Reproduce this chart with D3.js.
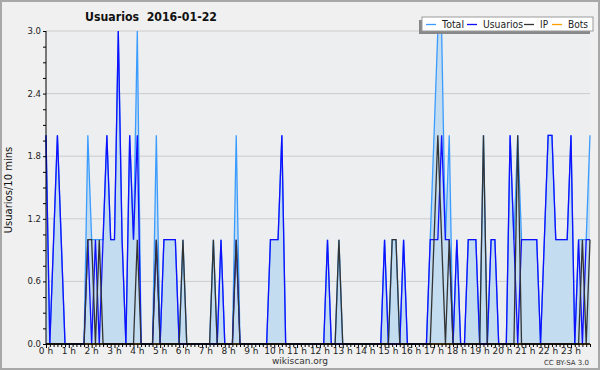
<!DOCTYPE html>
<html>
<head>
<meta charset="utf-8">
<script src="https://cdn.jsdelivr.net/npm/d3@7"></script>
<style>
  body { margin: 0; background: #f0f0f0; }
  text { font-family: "DejaVu Sans", sans-serif; }
</style>
</head>
<body>
<div id="chart"></div>
<script>
// 10-minute slots, 144 per day
const hourLabels = d3.range(24).map(h => h + " h");
const yTicks = [0, 0.6, 1.2, 1.8, 2.4, 3.0];

const total = [
  2,0,1,2,1,0,0,0,0,0,0,2,
  1,1,1,1,2,1,1,3,1,0,2,1,
  3,0,0,0,0,2,0,1,1,1,1,0,
  1,0,0,0,0,0,0,0,1,0,1,0,
  0,0,2,0,0,0,0,0,0,0,0,1,
  1,1,2,0,0,0,0,0,0,0,0,0,
  0,0,1,0,0,1,0,0,0,0,0,0,
  0,0,0,0,0,1,0,1,1,0,1,0,
  0,0,0,0,0,1,2,3,3,1,2,0,
  1,0,0,1,1,1,0,2,0,1,1,0,
  0,0,2,1,2,1,1,1,1,1,0,1,
  2,2,1,1,1,1,2,0,1,1,1,2
];
const usuarios = [
  2,0,1,2,1,0,0,0,0,0,0,1,
  0,1,0,1,2,1,1,3,1,0,2,1,
  2,0,0,0,0,1,0,1,1,1,1,0,
  0,0,0,0,0,0,0,0,0,0,1,0,
  0,0,1,0,0,0,0,0,0,0,0,1,
  1,1,2,0,0,0,0,0,0,0,0,0,
  0,0,1,0,0,0,0,0,0,0,0,0,
  0,0,0,0,0,1,0,0,0,0,1,0,
  0,0,0,0,0,1,1,1,2,1,1,0,
  1,0,0,1,1,1,0,0,0,1,1,0,
  0,0,2,1,0,1,1,1,1,1,0,1,
  2,2,1,1,1,1,2,0,1,0,1,1
];
const ip = [
  0,0,0,0,0,0,0,0,0,0,0,1,
  1,0,1,0,0,0,0,0,0,0,0,0,
  1,0,0,0,0,1,0,0,0,0,0,0,
  1,0,0,0,0,0,0,0,1,0,0,0,
  0,0,1,0,0,0,0,0,0,0,0,0,
  0,0,0,0,0,0,0,0,0,0,0,0,
  0,0,0,0,0,1,0,0,0,0,0,0,
  0,0,0,0,0,0,0,1,1,0,0,0,
  0,0,0,0,0,0,1,2,1,0,1,0,
  0,0,0,0,0,0,0,2,0,0,0,0,
  0,0,0,0,2,0,0,0,0,0,0,0,
  0,0,0,0,0,0,0,0,0,1,0,1
];
const bots = [
  0,0,0,0,0,0,0,0,0,0,0,0,
  0,0,0,0,0,0,0,0,0,0,0,0,
  0,0,0,0,0,0,0,0,0,0,0,0,
  0,0,0,0,0,0,0,0,0,0,0,0,
  0,0,0,0,0,0,0,0,0,0,0,0,
  0,0,0,0,0,0,0,0,0,0,0,0,
  0,0,0,0,0,0,0,0,0,0,0,0,
  0,0,0,0,0,0,0,0,0,0,0,0,
  0,0,0,0,0,0,0,0,0,0,0,0,
  0,0,0,0,0,0,0,0,0,0,0,0,
  0,0,0,0,0,0,0,0,0,0,0,0,
  0,0,0,0,0,0,0,0,0,0,0,0
];
const seriesNames = ["Total", "Usuarios", "IP", "Bots"];
const seriesColors = ["#3a9cff", "#1010ff", "#333333", "#ffa000"];

const W = 600, H = 370;
const svg = d3.select("#chart").append("svg")
    .attr("width", W).attr("height", H);

svg.append("rect").attr("x", 1).attr("y", 1)
    .attr("width", W - 2).attr("height", H - 2)
    .attr("fill", "#f0f0f0").attr("stroke", "#a8a8a8").attr("stroke-width", 2);

const x = d3.scaleLinear().domain([0, 143]).range([46, 590]);
const y = d3.scaleLinear().domain([0, 3]).range([344, 31]);

svg.append("rect").attr("x", x(0)).attr("y", y(3))
    .attr("width", x(143) - x(0)).attr("height", y(0) - y(3))
    .attr("fill", "#eceef0");

// grid
svg.append("g").selectAll("line").data(yTicks.slice(1)).join("line")
    .attr("x1", x(0)).attr("x2", x(143))
    .attr("y1", d => y(d)).attr("y2", d => y(d))
    .attr("stroke", "#cccccc").attr("stroke-width", 1);

const idx = d3.range(144);

svg.append("path").datum(idx)
    .attr("fill", "#c4dcf0")
    .attr("d", d3.area().x(i => x(i)).y0(y(0)).y1(i => y(total[i])));

const line = arr => d3.line().x(i => x(i)).y(i => y(arr[i]));
// bots first so the axis hides it at zero
[bots, total, usuarios, ip].forEach(arr => {
  const k = [total, usuarios, ip, bots].indexOf(arr);
  svg.append("path").datum(idx)
      .attr("fill", "none")
      .attr("stroke", seriesColors[k])
      .attr("stroke-width", 1.3)
      .attr("d", line(arr));
});

// x axis
const xAxis = svg.append("g").attr("transform", `translate(0,${y(0)})`);
xAxis.append("line").attr("x1", x(0)).attr("x2", x(143))
    .attr("stroke", "#000").attr("stroke-width", 1.6);
xAxis.selectAll(".mt").data(idx).join("line")
    .attr("x1", i => x(i) + 0.5).attr("x2", i => x(i) + 0.5)
    .attr("y1", 0).attr("y2", i => i % 6 === 0 ? 4 : 3)
    .attr("stroke", "#000");
xAxis.selectAll("text").data(hourLabels).join("text")
    .attr("x", (d, h) => x(h * 6)).attr("y", 10)
    .attr("text-anchor", "middle")
    .attr("font-size", 9).attr("fill", "#222")
    .text(d => d);

// y axis
const yAxis = svg.append("g");
yAxis.append("line").attr("x1", x(0)).attr("x2", x(0))
    .attr("y1", y(0)).attr("y2", y(3)).attr("stroke", "#000");
yAxis.selectAll(".mt").data(d3.range(0, 21)).join("line")
    .attr("x1", x(0) - 3).attr("x2", x(0))
    .attr("y1", k => y(k * 0.15) + 0.5).attr("y2", k => y(k * 0.15) + 0.5)
    .attr("stroke", "#000");
yAxis.selectAll("text").data(yTicks).join("text")
    .attr("x", x(0) - 5).attr("y", d => y(d) + 3)
    .attr("text-anchor", "end")
    .attr("font-size", 8.5).attr("fill", "#222")
    .text(d3.format(".1f"));

// titles
svg.append("text").attr("x", 151).attr("y", 21)
    .attr("text-anchor", "middle").attr("font-weight", "bold")
    .attr("font-size", 12.5).attr("fill", "#111")
    .attr("textLength", 132).attr("lengthAdjust", "spacingAndGlyphs")
    .style("white-space", "pre")
    .text("Usuarios  2016-01-22");

svg.append("text")
    .attr("transform", "translate(12,190) rotate(-90)")
    .attr("text-anchor", "middle").attr("font-size", 10).attr("fill", "#111")
    .text("Usuarios/10 mins");

svg.append("text").attr("x", 300).attr("y", 364)
    .attr("text-anchor", "middle").attr("font-size", 9).attr("fill", "#333")
    .text("wikiscan.org");
svg.append("text").attr("x", 589).attr("y", 365)
    .attr("text-anchor", "end").attr("font-size", 7).attr("fill", "#333")
    .text("CC BY-SA 3.0");

// legend
const lg = svg.append("g");
lg.append("rect").attr("x", 419).attr("y", 20).attr("width", 171).attr("height", 14)
    .attr("fill", "#888");
lg.append("rect").attr("x", 422).attr("y", 17).attr("width", 171).attr("height", 14)
    .attr("fill", "#fff").attr("stroke", "#999").attr("stroke-width", 1);
const swatchX = [426, 467, 524, 552];
const labelLen = [22, 40, 8, 20];
seriesNames.forEach((name, k) => {
  lg.append("line").attr("x1", swatchX[k]).attr("x2", swatchX[k] + 10)
      .attr("y1", 24.5).attr("y2", 24.5)
      .attr("stroke", seriesColors[k]).attr("stroke-width", 1.3);
  lg.append("text").attr("x", swatchX[k] + 16).attr("y", 28)
      .attr("font-size", 10).attr("fill", "#222")
      .attr("textLength", labelLen[k]).attr("lengthAdjust", "spacingAndGlyphs")
      .text(name);
});
</script>
</body>
</html>
